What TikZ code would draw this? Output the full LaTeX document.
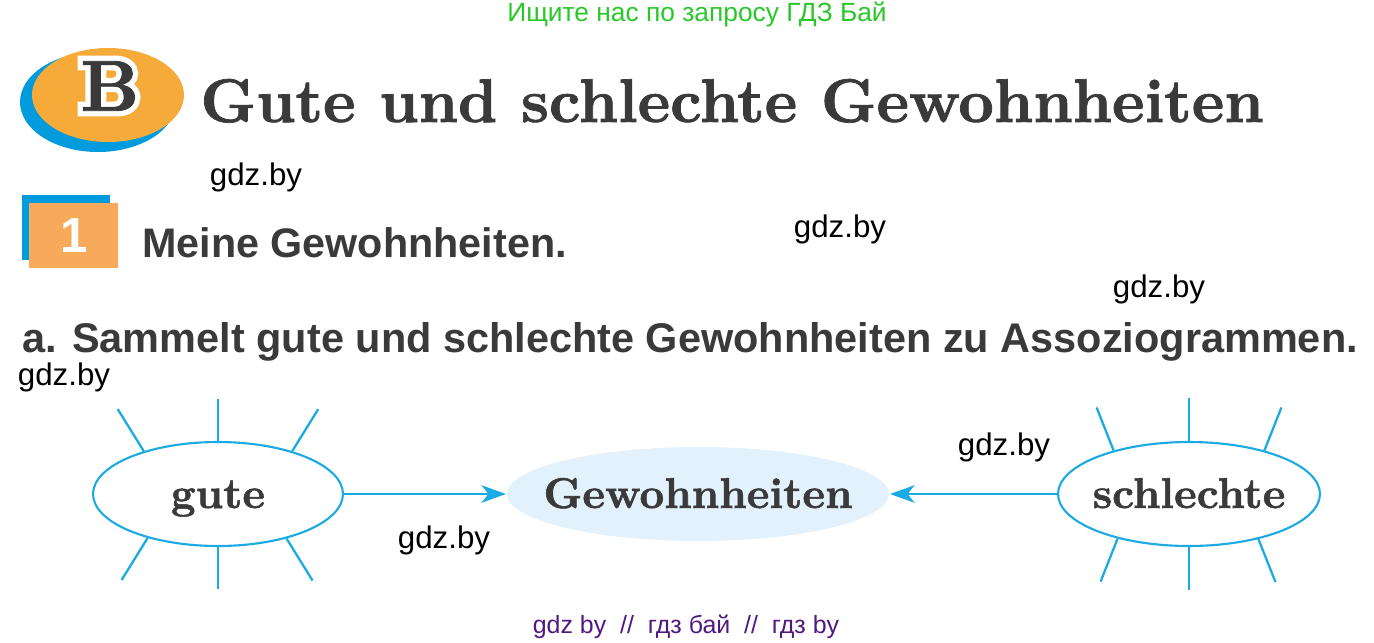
\documentclass[tikz,border=0pt]{standalone}
\usepackage{fontspec}
\setsansfont{Liberation Sans}
\newfontface\heavyserif[FakeBold=1.2]{lmroman10-bold.otf}
\newfontface\haloserif[FakeBold=16]{lmroman10-bold.otf}
\usetikzlibrary{calc}
\usetikzlibrary{shapes.geometric}
\usetikzlibrary{arrows.meta}
\definecolor{lineblue}{RGB}{27,170,226}
\definecolor{logoblue}{RGB}{0,155,220}
\definecolor{logoorange}{RGB}{246,170,58}
\definecolor{boxorange}{RGB}{246,170,90}
\definecolor{bubblefill}{RGB}{226,241,251}
\definecolor{darktext}{RGB}{58,58,58}
\definecolor{searchgreen}{RGB}{40,200,40}
\definecolor{footpurple}{RGB}{80,25,130}
\tikzstyle{ray}=[lineblue,line width=1.3pt]
\tikzstyle{bubble}=[ellipse,draw=lineblue,line width=1.2pt,inner xsep=-0.4cm,inner ysep=0pt,text height=0.7cm,text depth=0.14cm,text=darktext,font=\heavyserif\fontsize{24.5}{28}\selectfont]
\tikzstyle{assocarrow}=[-{Stealth[length=14pt,width=10pt,inset=4pt]},lineblue,line width=1.2pt]
\tikzstyle{watermark}=[font=\sffamily\fontsize{17.8}{20}\selectfont]
\tikzstyle{bigletter}=[inner sep=0pt,font=\fontsize{41}{44}\selectfont]
\newcommand{\drawrays}[3]{
  \draw[ray] (#1.north) -- ++(0,-#3);
  \draw[ray] (#1.south) -- ++(0,#3);
  \draw[ray] (#1.150) -- ++(-#2,-#3);
  \draw[ray] (#1.30) -- ++(#2,-#3);
  \draw[ray] (#1.212) -- ++(-#2,#3);
  \draw[ray] (#1.327) -- ++(#2,#3);
}
\begin{document}
\begin{tikzpicture}[x=0.02cm,y=-0.02cm]
  \useasboundingbox (0,0) rectangle (1374,643);
  \node[text=searchgreen,font=\sffamily\fontsize{15}{17}\selectfont] (search) at (697,14) {Ищите нас по запросу ГДЗ Бай};
  % logo
  \fill[logoblue] (98,102) ellipse [x radius=78,y radius=50];
  \fill[logoorange] (108,95) ellipse [x radius=76,y radius=47];
  \node[bigletter] (letterB) at (110,86) {\makebox[0pt][l]{\textcolor{white}{\haloserif B}}\textcolor{darktext}{\heavyserif B}};
  \node[anchor=base west,inner sep=0pt,text=darktext,font=\heavyserif\fontsize{35.1}{40}\selectfont] (title) at (200,122) {Gute und schlechte Gewohnheiten};
  % task 1
  \fill[logoblue] (22,195) rectangle (110,260);
  \fill[boxorange] (29,203) rectangle (118,268);
  \node[text=white,font=\sffamily\bfseries\fontsize{28}{30}\selectfont] (nr) at (74,236) {1};
  \node[anchor=base west,inner sep=0pt,text=darktext,font=\sffamily\bfseries\fontsize{23.5}{28}\selectfont] (task) at (142,257) {Meine Gewohnheiten.};
  \node[anchor=base west,inner sep=0pt,text=darktext,font=\sffamily\bfseries\fontsize{23.6}{28}\selectfont] (subtask) at (22,352) {a. Sammelt gute und schlechte Gewohnheiten zu Assoziogrammen.};
  % watermarks
  \node[watermark] (wm1) at (256,177) {gdz.by};
  \node[watermark] (wm2) at (840,229) {gdz.by};
  \node[watermark] (wm3) at (1159,289) {gdz.by};
  \node[watermark] (wm4) at (64,377) {gdz.by};
  \node[watermark] (wm5) at (1004,447) {gdz.by};
  \node[watermark] (wm6) at (444,540) {gdz.by};
  % associogram
  \node[bubble,minimum width=5cm,minimum height=2.08cm] (gute) at (218,494) {gute};
  \node[bubble,draw=none,fill=bubblefill,minimum width=7.64cm,minimum height=1.88cm] (gew) at (698,494) {Gewohnheiten};
  \node[bubble,minimum width=5.24cm,minimum height=2.08cm] (schlechte) at (1189,494) {schlechte};
  \drawrays{gute}{26}{42}
  \drawrays{schlechte}{17}{43}
  \draw[assocarrow] (gute) -- (gew);
  \draw[assocarrow] (schlechte) -- (gew);
  \node[text=footpurple,font=\sffamily\fontsize{14.2}{16}\selectfont] (foot) at (686,627) {gdz by\ \ //\ \ гдз бай\ \ //\ \ гдз by};
\end{tikzpicture}
\end{document}
